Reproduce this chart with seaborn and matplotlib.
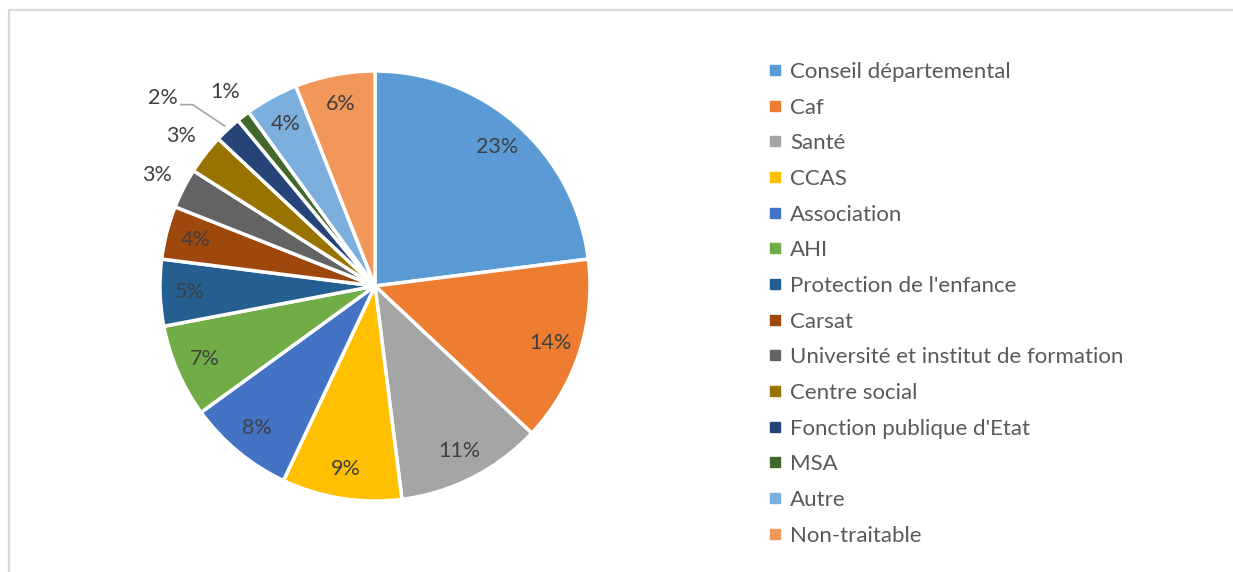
import numpy as np
import matplotlib
matplotlib.use("Agg")
import matplotlib.pyplot as plt
from matplotlib.lines import Line2D
import seaborn as sns

categories = [
    "Conseil départemental", "Caf", "Santé", "CCAS", "Association", "AHI",
    "Protection de l'enfance", "Carsat", "Université et institut de formation",
    "Centre social", "Fonction publique d'Etat", "MSA", "Autre", "Non-traitable",
]
shares = [23, 14, 11, 9, 8, 7, 5, 4, 3, 3, 2, 1, 4, 6]
colors = [
    "#5B9BD5", "#ED7D31", "#A5A5A5", "#FFC000", "#4472C4", "#70AD47",
    "#255E91", "#9E480E", "#636363", "#997300", "#264478", "#43682B",
    "#7CAFDD", "#F1975A",
]

sns.set_theme(style="white")
plt.rcParams["font.family"] = ["Lato", "DejaVu Sans"]
text_color = "#595959"
pct_color = "#404040"

W, H = 1233, 572
fig = plt.figure(figsize=(W / 100, H / 100), dpi=100)
fig.patch.set_facecolor("white")

cx, cy, r = 375, 286, 215
ax = fig.add_axes([(cx - r) / W, (H - cy - r) / H, 2 * r / W, 2 * r / H])
palette = sns.color_palette(colors)

wedges, _ = ax.pie(
    shares, colors=palette, startangle=90, counterclock=False, radius=1,
    wedgeprops=dict(edgecolor="white", linewidth=2.5),
)
ax.set_xlim(-1, 1)
ax.set_ylim(-1, 1)
ax.set_aspect("equal")
ax.axis("off")

pct_size = 15.5
total = float(sum(shares))
cum = np.cumsum([0] + shares[:-1])
for i, (v, c0) in enumerate(zip(shares, cum)):
    mid = np.deg2rad(90 - 360 * (c0 + v / 2) / total)
    ux, uy = np.cos(mid), np.sin(mid)
    label = f"{v}%"
    if categories[i] == "Fonction publique d'Etat":
        edge = np.array([1.02 * ux, 1.02 * uy])
        elbow = edge + np.array([-0.15, 0.10])
        start = elbow + np.array([-0.056, 0.0])
        ax.plot([start[0], elbow[0], edge[0]], [start[1], elbow[1], edge[1]],
                color="#a6a6a6", lw=1.2, clip_on=False)
        ax.text(start[0] - 0.015, start[1] + 0.03, label, ha="right", va="center",
                fontsize=pct_size, color=pct_color)
    elif v <= 3:
        ax.text(1.14 * ux, 1.14 * uy, label, ha="center", va="center",
                fontsize=pct_size, color=pct_color)
    else:
        ax.text(0.86 * ux, 0.86 * uy, label, ha="center", va="center",
                fontsize=pct_size, color=pct_color)

handles = [Line2D([0], [0], marker="s", linestyle="none", markersize=7,
                  markerfacecolor=col, markeredgecolor=col) for col in colors]
fig.legend(
    handles, categories, loc="upper left",
    bbox_to_anchor=(758 / W, 1 - 53 / H), frameon=False,
    fontsize=16, labelcolor=text_color, handlelength=0.7, handletextpad=0.35,
    labelspacing=0.705, borderaxespad=0,
)

border = "#d9d9d9"
x0, y0 = 8.5 / W, 1 - 9.5 / H
fig.add_artist(Line2D([x0, 1.01], [y0, y0], color=border, lw=1.6))
fig.add_artist(Line2D([x0, x0], [-0.01, y0], color=border, lw=1.6))

fig.savefig("out.png", dpi=100, facecolor="white")
